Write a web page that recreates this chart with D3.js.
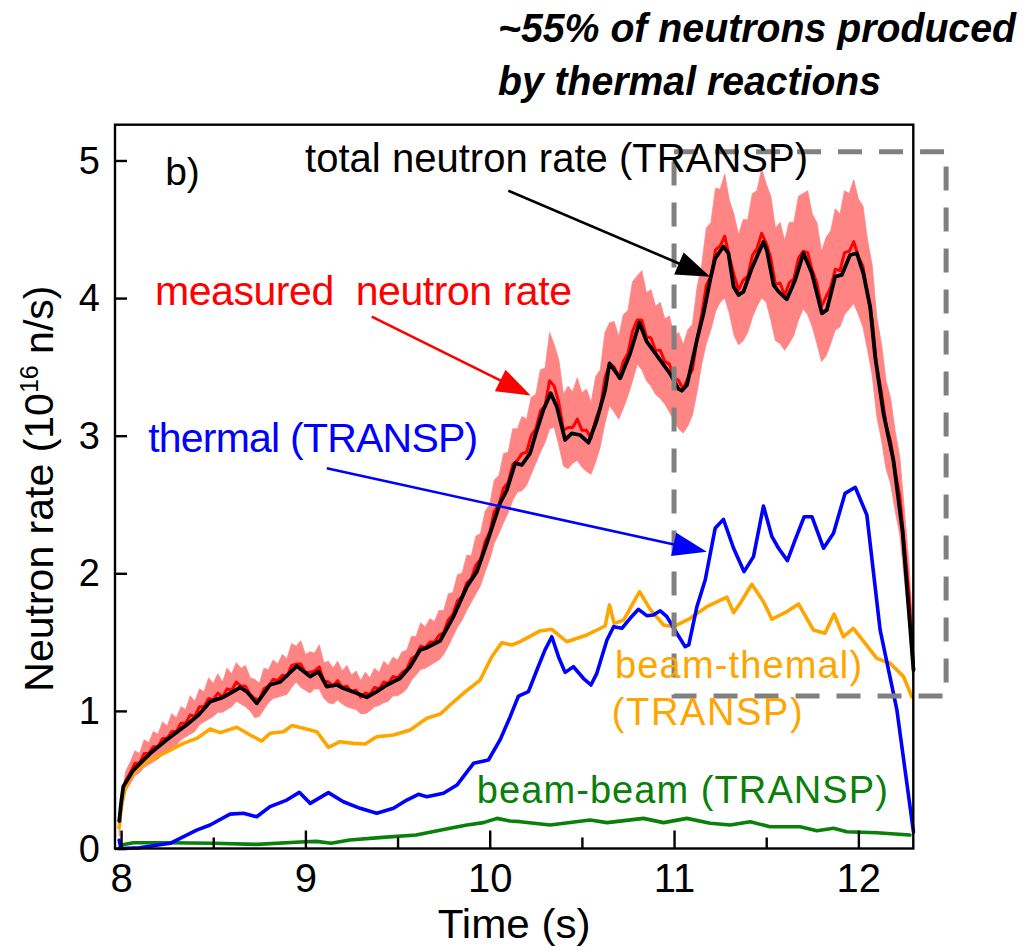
<!DOCTYPE html>
<html>
<head>
<meta charset="utf-8">
<script src="https://cdn.jsdelivr.net/npm/d3@7"></script>
<style>
  body { margin: 0; background: #fff; }
  svg { display: block; }
  text { font-family: "Liberation Sans", Arial, Helvetica, sans-serif; }
</style>
</head>
<body>
<svg id="chart" width="1025" height="951"></svg>
<script>
// ---- data (time in s, rates in 10^16 n/s) ----
const xTickValues = [8, 9, 10, 11, 12];
const xMinorTicks = [8.5, 9.5, 10.5, 11.5];
const yTickValues = [0, 1, 2, 3, 4, 5];

// measured neutron rate and its uncertainty (1 sigma)
const measT = [7.990, 8.000, 8.025, 8.050, 8.075, 8.100, 8.125, 8.150, 8.175, 8.200, 8.225, 8.250, 8.275, 8.300, 8.325, 8.350, 8.375, 8.400, 8.425, 8.450, 8.475, 8.500, 8.525, 8.550, 8.575, 8.600, 8.625, 8.650, 8.675, 8.700, 8.725, 8.750, 8.775, 8.800, 8.825, 8.850, 8.875, 8.900, 8.925, 8.950, 8.975, 9.000, 9.025, 9.050, 9.075, 9.100, 9.125, 9.150, 9.175, 9.200, 9.225, 9.250, 9.275, 9.300, 9.325, 9.350, 9.375, 9.400, 9.425, 9.450, 9.475, 9.500, 9.525, 9.550, 9.575, 9.600, 9.625, 9.650, 9.675, 9.700, 9.725, 9.750, 9.775, 9.800, 9.825, 9.850, 9.875, 9.900, 9.925, 9.950, 9.975, 10.000, 10.025, 10.050, 10.075, 10.100, 10.125, 10.150, 10.175, 10.200, 10.225, 10.250, 10.275, 10.300, 10.325, 10.350, 10.375, 10.400, 10.425, 10.450, 10.475, 10.500, 10.525, 10.550, 10.575, 10.600, 10.625, 10.650, 10.675, 10.700, 10.725, 10.750, 10.775, 10.800, 10.825, 10.850, 10.875, 10.900, 10.925, 10.950, 10.975, 11.000, 11.025, 11.050, 11.075, 11.100, 11.125, 11.150, 11.175, 11.200, 11.225, 11.250, 11.275, 11.300, 11.325, 11.350, 11.375, 11.400, 11.425, 11.450, 11.475, 11.500, 11.525, 11.550, 11.575, 11.600, 11.625, 11.650, 11.675, 11.700, 11.725, 11.750, 11.775, 11.800, 11.825, 11.850, 11.875, 11.900, 11.925, 11.950, 11.975, 12.000, 12.025, 12.050, 12.075, 12.100, 12.125, 12.150, 12.175, 12.200, 12.225, 12.250, 12.275, 12.300];
const measV = [0.15, 0.30, 0.49, 0.55, 0.62, 0.62, 0.69, 0.69, 0.74, 0.74, 0.80, 0.80, 0.85, 0.85, 0.91, 0.91, 0.97, 0.96, 1.03, 1.03, 1.09, 1.08, 1.13, 1.10, 1.16, 1.15, 1.21, 1.18, 1.18, 1.12, 1.09, 1.08, 1.16, 1.18, 1.23, 1.22, 1.26, 1.25, 1.33, 1.34, 1.34, 1.28, 1.28, 1.29, 1.32, 1.22, 1.21, 1.18, 1.22, 1.17, 1.18, 1.14, 1.15, 1.10, 1.13, 1.12, 1.17, 1.16, 1.21, 1.20, 1.25, 1.24, 1.28, 1.30, 1.38, 1.40, 1.47, 1.46, 1.50, 1.50, 1.55, 1.57, 1.66, 1.70, 1.80, 1.83, 1.93, 1.96, 2.06, 2.10, 2.23, 2.30, 2.45, 2.50, 2.62, 2.66, 2.79, 2.82, 2.87, 2.88, 3.00, 3.05, 3.18, 3.22, 3.40, 3.36, 3.24, 3.04, 3.06, 3.06, 3.12, 3.04, 3.04, 2.98, 3.12, 3.20, 3.42, 3.52, 3.50, 3.42, 3.54, 3.60, 3.76, 3.84, 3.84, 3.72, 3.71, 3.62, 3.62, 3.54, 3.52, 3.42, 3.40, 3.34, 3.42, 3.48, 3.70, 3.88, 4.09, 4.16, 4.35, 4.38, 4.45, 4.30, 4.17, 4.06, 4.13, 4.16, 4.31, 4.36, 4.47, 4.40, 4.29, 4.10, 4.11, 4.02, 4.11, 4.14, 4.29, 4.34, 4.33, 4.20, 4.11, 3.94, 4.01, 4.08, 4.21, 4.20, 4.33, 4.34, 4.41, 4.30, 4.23, 4.02, 3.84, 3.50, 3.32, 3.08, 2.96, 2.74, 2.56, 2.20, 1.84, 1.30];
const measErr = [0.06, 0.06, 0.07, 0.08, 0.09, 0.07, 0.10, 0.08, 0.11, 0.09, 0.12, 0.09, 0.13, 0.10, 0.12, 0.10, 0.14, 0.11, 0.13, 0.11, 0.15, 0.12, 0.14, 0.11, 0.15, 0.12, 0.14, 0.13, 0.15, 0.12, 0.14, 0.12, 0.15, 0.12, 0.14, 0.12, 0.15, 0.13, 0.16, 0.13, 0.17, 0.13, 0.15, 0.13, 0.16, 0.13, 0.15, 0.13, 0.14, 0.12, 0.15, 0.12, 0.14, 0.12, 0.15, 0.12, 0.14, 0.12, 0.15, 0.13, 0.14, 0.13, 0.15, 0.14, 0.16, 0.14, 0.17, 0.15, 0.17, 0.15, 0.18, 0.16, 0.19, 0.16, 0.19, 0.17, 0.20, 0.17, 0.21, 0.19, 0.22, 0.20, 0.23, 0.21, 0.25, 0.22, 0.26, 0.23, 0.27, 0.24, 0.28, 0.25, 0.30, 0.27, 0.35, 0.30, 0.31, 0.26, 0.30, 0.26, 0.30, 0.27, 0.30, 0.26, 0.31, 0.28, 0.33, 0.30, 0.33, 0.30, 0.34, 0.31, 0.36, 0.32, 0.36, 0.32, 0.35, 0.32, 0.35, 0.31, 0.35, 0.31, 0.35, 0.32, 0.35, 0.33, 0.38, 0.36, 0.42, 0.39, 0.45, 0.41, 0.45, 0.41, 0.44, 0.40, 0.44, 0.41, 0.45, 0.42, 0.47, 0.43, 0.45, 0.41, 0.44, 0.40, 0.44, 0.41, 0.45, 0.42, 0.45, 0.41, 0.44, 0.40, 0.43, 0.41, 0.44, 0.41, 0.45, 0.42, 0.45, 0.42, 0.44, 0.40, 0.40, 0.36, 0.35, 0.32, 0.31, 0.29, 0.28, 0.25, 0.22, 0.16];

// total neutron rate (TRANSP)
const totalT = [7.99, 8.00, 8.012, 8.067, 8.157, 8.248, 8.356, 8.42, 8.483, 8.555, 8.646, 8.682, 8.736, 8.808, 8.863, 8.953, 9.026, 9.071, 9.116, 9.17, 9.206, 9.279, 9.333, 9.387, 9.442, 9.514, 9.568, 9.622, 9.66, 9.731, 9.803, 9.876, 9.93, 9.984, 10.056, 10.093, 10.138, 10.174, 10.219, 10.256, 10.291, 10.331, 10.364, 10.409, 10.445, 10.49, 10.536, 10.581, 10.626, 10.65, 10.708, 10.762, 10.812, 10.852, 10.925, 10.979, 11.024, 11.042, 11.07, 11.124, 11.16, 11.196, 11.223, 11.268, 11.295, 11.323, 11.35, 11.377, 11.422, 11.485, 11.503, 11.54, 11.567, 11.612, 11.657, 11.702, 11.748, 11.802, 11.829, 11.874, 11.91, 11.955, 11.992, 12.027, 12.064, 12.091, 12.136, 12.19, 12.24, 12.299];
const totalV = [0.20, 0.33, 0.45, 0.57, 0.69, 0.79, 0.90, 0.97, 1.067, 1.10, 1.17, 1.14, 1.055, 1.19, 1.21, 1.326, 1.25, 1.285, 1.176, 1.19, 1.164, 1.128, 1.099, 1.14, 1.188, 1.237, 1.32, 1.443, 1.46, 1.51, 1.685, 1.903, 2.012, 2.218, 2.509, 2.605, 2.80, 2.787, 2.872, 3.041, 3.187, 3.308, 3.211, 2.969, 3.017, 3.005, 2.949, 3.114, 3.332, 3.526, 3.417, 3.599, 3.821, 3.683, 3.55, 3.45, 3.34, 3.327, 3.368, 3.695, 3.889, 4.132, 4.289, 4.374, 4.326, 4.083, 4.022, 4.047, 4.217, 4.41, 4.35, 4.095, 4.047, 3.991, 4.132, 4.326, 4.18, 3.889, 3.914, 4.156, 4.168, 4.313, 4.326, 4.18, 3.937, 3.574, 3.163, 2.823, 2.30, 1.297];

// thermal (TRANSP)
const thermalT = [7.99, 8.00, 8.10, 8.266, 8.41, 8.483, 8.591, 8.664, 8.736, 8.808, 8.899, 8.967, 9.026, 9.125, 9.206, 9.297, 9.387, 9.478, 9.55, 9.613, 9.659, 9.749, 9.822, 9.912, 9.993, 10.056, 10.111, 10.156, 10.21, 10.256, 10.30, 10.337, 10.373, 10.409, 10.454, 10.508, 10.549, 10.581, 10.636, 10.672, 10.717, 10.762, 10.807, 10.852, 10.888, 10.925, 10.961, 11.015, 11.06, 11.08, 11.124, 11.169, 11.223, 11.268, 11.323, 11.38, 11.431, 11.485, 11.531, 11.567, 11.615, 11.657, 11.706, 11.748, 11.811, 11.865, 11.928, 11.983, 12.046, 12.118, 12.209, 12.299];
const thermalV = [0.06, 0.00, 0.005, 0.038, 0.134, 0.171, 0.25, 0.256, 0.231, 0.304, 0.352, 0.408, 0.328, 0.406, 0.34, 0.292, 0.256, 0.292, 0.352, 0.394, 0.376, 0.401, 0.461, 0.619, 0.643, 0.789, 0.958, 1.108, 1.14, 1.297, 1.443, 1.539, 1.394, 1.28, 1.321, 1.237, 1.188, 1.273, 1.515, 1.612, 1.60, 1.673, 1.738, 1.692, 1.697, 1.728, 1.685, 1.564, 1.467, 1.48, 1.757, 1.951, 2.327, 2.392, 2.182, 2.012, 2.121, 2.489, 2.266, 2.182, 2.092, 2.242, 2.411, 2.411, 2.182, 2.291, 2.581, 2.625, 2.424, 1.588, 1.007, 0.12];

// beam-thermal (TRANSP)
const beamThermalT = [7.99, 8.00, 8.02, 8.049, 8.10, 8.157, 8.248, 8.338, 8.41, 8.483, 8.537, 8.628, 8.70, 8.763, 8.808, 8.881, 8.926, 8.989, 9.062, 9.125, 9.188, 9.261, 9.324, 9.387, 9.478, 9.568, 9.659, 9.731, 9.785, 9.857, 9.948, 10.011, 10.066, 10.12, 10.165, 10.273, 10.337, 10.373, 10.418, 10.527, 10.626, 10.65, 10.675, 10.726, 10.813, 10.871, 10.943, 10.997, 11.088, 11.178, 11.287, 11.323, 11.359, 11.422, 11.485, 11.531, 11.612, 11.675, 11.756, 11.819, 11.868, 11.919, 11.973, 12.037, 12.10, 12.172, 12.245, 12.29];
const beamThermalV = [0.15, 0.30, 0.42, 0.52, 0.59, 0.643, 0.703, 0.764, 0.80, 0.868, 0.842, 0.881, 0.825, 0.781, 0.837, 0.849, 0.893, 0.873, 0.849, 0.735, 0.776, 0.764, 0.759, 0.812, 0.825, 0.861, 0.946, 0.977, 1.043, 1.128, 1.224, 1.394, 1.496, 1.479, 1.503, 1.581, 1.593, 1.552, 1.503, 1.552, 1.617, 1.77, 1.636, 1.66, 1.866, 1.738, 1.624, 1.612, 1.673, 1.757, 1.826, 1.714, 1.782, 1.92, 1.794, 1.666, 1.721, 1.777, 1.588, 1.564, 1.704, 1.539, 1.60, 1.491, 1.382, 1.346, 1.249, 1.103];

// beam-beam (TRANSP)
const beamBeamT = [7.99, 8.00, 8.067, 8.248, 8.50, 8.736, 8.971, 9.06, 9.14, 9.24, 9.42, 9.60, 9.785, 9.876, 9.966, 10.04, 10.11, 10.165, 10.328, 10.545, 10.636, 10.834, 10.943, 11.07, 11.196, 11.305, 11.413, 11.52, 11.684, 11.775, 11.865, 11.937, 12.10, 12.28];
const beamBeamV = [0.0, 0.025, 0.042, 0.042, 0.038, 0.03, 0.047, 0.052, 0.038, 0.062, 0.081, 0.098, 0.147, 0.171, 0.188, 0.219, 0.20, 0.195, 0.171, 0.207, 0.188, 0.219, 0.188, 0.219, 0.183, 0.171, 0.195, 0.158, 0.158, 0.129, 0.147, 0.122, 0.115, 0.098];

// highlighted window (time range, rate range)
const boxT = [11.0, 12.476];
const boxV = [1.108, 5.064];

// ---- layout ----
const svg = d3.select("#chart");
const frame = { left: 115, right: 913.3, top: 124.7, bottom: 848.5 };
const x = d3.scaleLinear().domain([7.967, 12.298]).range([frame.left, frame.right]);
const y = d3.scaleLinear().domain([0, 5.26]).range([frame.bottom, frame.top]);

const zip = (ts, vs) => ts.map((t, i) => [t, vs[i]]);
const line = d3.line().x(d => x(d[0])).y(d => y(d[1]));

// uncertainty band of the measurement
const band = d3.area()
  .x((d, i) => x(measT[i]))
  .y0((d, i) => y(measV[i] - measErr[i]))
  .y1((d, i) => y(measV[i] + measErr[i]));
svg.append("path").attr("d", band(measT))
  .attr("fill", "#ff8585").attr("stroke", "#ff8585").attr("stroke-width", 0.8);

// measured rate
svg.append("path").attr("d", line(zip(measT, measV)))
  .attr("fill", "none").attr("stroke", "#ff0000").attr("stroke-width", 3)
  .attr("stroke-linejoin", "round");

// TRANSP components
const series = [
  { t: beamBeamT, v: beamBeamV, color: "#0a800a", w: 3.6 },
  { t: beamThermalT, v: beamThermalV, color: "#ffa500", w: 3.6 },
  { t: thermalT, v: thermalV, color: "#0000ff", w: 3.6 },
  { t: totalT, v: totalV, color: "#000000", w: 3.8 }
];
series.forEach(s => {
  svg.append("path").attr("d", line(zip(s.t, s.v)))
    .attr("fill", "none").attr("stroke", s.color).attr("stroke-width", s.w)
    .attr("stroke-linejoin", "round").attr("stroke-linecap", "round");
});

// dashed window
svg.append("rect")
  .attr("x", x(boxT[0])).attr("y", y(boxV[1]))
  .attr("width", x(boxT[1]) - x(boxT[0])).attr("height", y(boxV[0]) - y(boxV[1]))
  .attr("fill", "none").attr("stroke", "#808080").attr("stroke-width", 5)
  .attr("stroke-dasharray", "24,17");

// ---- frame and axes ----
svg.append("rect")
  .attr("x", frame.left).attr("y", frame.top)
  .attr("width", frame.right - frame.left).attr("height", frame.bottom - frame.top)
  .attr("fill", "none").attr("stroke", "#000").attr("stroke-width", 2.4);

const xAxis = d3.axisBottom(x).tickValues(xTickValues).tickSize(-18).tickPadding(24).tickFormat(d3.format("d"));
const gx = svg.append("g").attr("transform", `translate(0,${frame.bottom})`).call(xAxis);
gx.select(".domain").remove();
gx.selectAll(".tick line").attr("stroke", "#000").attr("stroke-width", 2.4);
gx.selectAll(".tick text").attr("font-size", 40).attr("fill", "#000")
  .attr("dy", null).attr("y", 43).attr("font-family", '"Liberation Sans", Arial, sans-serif');

const gxm = svg.append("g").attr("transform", `translate(0,${frame.bottom})`)
  .call(d3.axisBottom(x).tickValues(xMinorTicks).tickSize(-11).tickFormat(""));
gxm.select(".domain").remove();
gxm.selectAll(".tick line").attr("stroke", "#000").attr("stroke-width", 2.4);

const yAxis = d3.axisLeft(y).tickValues(yTickValues).tickSize(-12).tickPadding(15).tickFormat(d3.format("d"));
const gy = svg.append("g").attr("transform", `translate(${frame.left},0)`).call(yAxis);
gy.select(".domain").remove();
gy.selectAll(".tick line").attr("stroke", "#000").attr("stroke-width", 2.4);
gy.selectAll(".tick text").attr("font-size", 38).attr("fill", "#000")
  .attr("dy", "0.33em").attr("font-family", '"Liberation Sans", Arial, sans-serif');

// axis titles
svg.append("text").attr("x", (frame.left + frame.right) / 2).attr("y", 938)
  .attr("text-anchor", "middle").attr("font-size", 40)
  .attr("textLength", 153).attr("lengthAdjust", "spacingAndGlyphs")
  .text("Time (s)");

const yt = svg.append("text")
  .attr("transform", `translate(53,${(frame.top + frame.bottom) / 2 + 2}) rotate(-90)`)
  .attr("text-anchor", "middle").attr("font-size", 41);
yt.append("tspan").text("Neutron rate (10");
yt.append("tspan").attr("font-size", 25).attr("dy", -15).text("16");
yt.append("tspan").attr("dy", 15).text(" n/s)");

// ---- annotations ----
const labels = [
  { text: "b)", t: 8.239, v: 4.822, color: "#000", size: 39 },
  { text: "total neutron rate (TRANSP)", t: 8.998, v: 4.919, color: "#000", size: 40, len: 503 },
  { text: "measured  neutron rate", t: 8.184, v: 3.95, color: "#ff0000", size: 41, len: 417 },
  { text: "thermal (TRANSP)", t: 8.147, v: 2.884, color: "#0000ff", size: 41, len: 330 },
  { text: "beam-themal)", t: 10.68, v: 1.237, color: "#ffa500", size: 38, len: 247 },
  { text: "(TRANSP)", t: 10.662, v: 0.898, color: "#ffa500", size: 38, len: 191 },
  { text: "beam-beam (TRANSP)", t: 9.93, v: 0.328, color: "#0a800a", size: 38, len: 411 }
];
labels.forEach(l => {
  const el = svg.append("text").attr("x", x(l.t)).attr("y", y(l.v))
    .attr("font-size", l.size).attr("fill", l.color).text(l.text)
    .style("white-space", "pre");
  if (l.len) el.attr("textLength", l.len).attr("lengthAdjust", "spacing");
});

const arrows = [
  { from: [10.101, 4.78], to: [11.196, 4.155], color: "#000" },
  { from: [9.360, 3.865], to: [10.222, 3.292], color: "#ff0000" },
  { from: [9.116, 2.763], to: [11.178, 2.157], color: "#0000ff" }
];
arrows.forEach(a => {
  const x0 = x(a.from[0]), y0 = y(a.from[1]);
  const x1 = x(a.to[0]), y1 = y(a.to[1]);
  const len = Math.hypot(x1 - x0, y1 - y0);
  const ux = (x1 - x0) / len, uy = (y1 - y0) / len;
  const headLen = 34, headHalf = 12;
  const bx = x1 - ux * headLen, by = y1 - uy * headLen;
  svg.append("line").attr("x1", x0).attr("y1", y0).attr("x2", bx + ux * 4).attr("y2", by + uy * 4)
    .attr("stroke", a.color).attr("stroke-width", 2.6);
  svg.append("path")
    .attr("d", `M${x1},${y1}L${bx - uy * headHalf},${by + ux * headHalf}L${bx + uy * headHalf},${by - ux * headHalf}Z`)
    .attr("fill", a.color);
});

// headline
const head = [
  { text: "~55% of neutrons produced", y: 42, len: 518 },
  { text: "by thermal reactions", y: 95, len: 383 }
];
head.forEach(h => {
  svg.append("text").attr("x", 498).attr("y", h.y)
    .attr("font-size", 40).attr("font-weight", "bold").attr("font-style", "italic")
    .attr("textLength", h.len).attr("lengthAdjust", "spacingAndGlyphs")
    .text(h.text);
});
</script>
</body>
</html>
